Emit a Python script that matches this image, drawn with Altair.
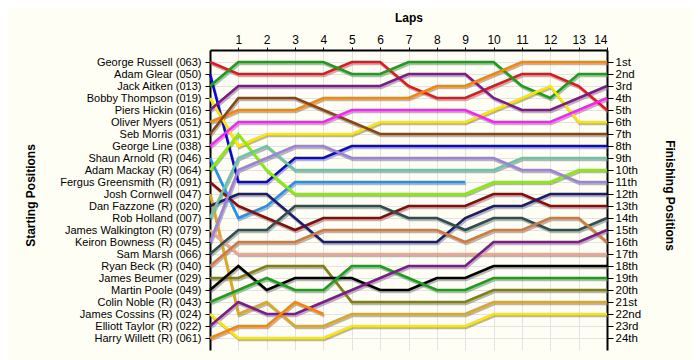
import altair as alt
import pandas as pd

laps = list(range(0, 15))
lap_labels = list(range(1, 15))

drivers = [
    "George Russell (063)", "Adam Glear (050)", "Jack Aitken (013)", "Bobby Thompson (019)",
    "Piers Hickin (016)", "Oliver Myers (051)", "Seb Morris (031)", "George Line (038)",
    "Shaun Arnold (R) (046)", "Adam Mackay (R) (064)", "Fergus Greensmith (R) (091)",
    "Josh Cornwell (047)", "Dan Fazzone (R) (020)", "Rob Holland (007)",
    "James Walkington (R) (079)", "Keiron Bowness (R) (045)", "Sam Marsh (066)",
    "Ryan Beck (R) (040)", "James Beumer (029)", "Martin Poole (049)", "Colin Noble (R) (043)",
    "James Cossins (R) (024)", "Elliott Taylor (R) (022)", "Harry Willett (R) (061)",
]

colors = [
    "#E3171C", "#0A0ACC", "#18A018", "#FFE500", "#7E1A8C", "#FF8200", "#8B4513", "#FF1EFF",
    "#2290F0", "#84F000", "#8B0A0A", "#DDA820", "#1C1C6E", "#6CC4A8", "#F4A48C", "#9C82DC",
    "#2F4F4F", "#D27A3C", "#808012", "#000000", "#18A018", "#FFE500", "#7E1A8C", "#FF8200",
]

# position of each driver at the end of each lap (lap 0 = grid)
lap_positions = [
    [1, 2, 2, 2, 2, 1, 1, 3, 4, 4, 3, 2, 2, 3, 5],
    [2, 11, 11, 9, 9, 8, 8, 8, 8, 8, 8, 8, 8, 8, 8],
    [3, 1, 1, 1, 1, 2, 2, 1, 1, 1, 1, 3, 4, 2, 2],
    [4, 8, 7, 7, 7, 7, 6, 6, 6, 6, 5, 4, 3, 6, 6],
    [5, 3, 3, 3, 3, 3, 3, 2, 2, 2, 4, 5, 5, 4, 3],
    [6, 5, 5, 5, 4, 4, 4, 4, 3, 3, 2, 1, 1, 1, 1],
    [7, 4, 4, 4, 5, 6, 7, 7, 7, 7, 7, 7, 7, 7, 7],
    [8, 6, 6, 6, 6, 5, 5, 5, 5, 5, 6, 6, 6, 5, 4],
    [9, 14, 13, 11, 11, 11, 11, 11, 11, 11],
    [10, 7, 10, 12, 12, 12, 12, 12, 12, 12, 11, 11, 11, 10, 10],
    [11, 13, 14, 15, 14, 14, 14, 13, 13, 13, 12, 12, 13, 13, 13],
    [12, 22, 21, 23, 23, 22, 22, 22, 22, 22, 21, 21, 21, 21, 21],
    [13, 12, 12, 14, 16, 16, 16, 16, 16, 14, 13, 13, 12, 12, 12],
    [14, 9, 8, 10, 10, 10, 10, 10, 10, 10, 10, 9, 9, 9, 9],
    [15, 17, 17, 17, 17, 17, 17, 17, 17, 17, 17, 17, 17, 17, 17],
    [16, 10, 9, 8, 8, 9, 9, 9, 9, 9, 9, 10, 10, 11, 11],
    [17, 15, 15, 13, 13, 13, 13, 14, 14, 15, 14, 14, 15, 15, 14],
    [18, 16, 16, 16, 15, 15, 15, 15, 15, 16, 15, 15, 14, 14, 16],
    [19, 19, 18, 18, 18, 21, 21, 21, 21, 21, 20, 20, 20, 20, 20],
    [20, 18, 20, 19, 19, 19, 20, 20, 19, 19, 18, 18, 18, 18, 18],
    [21, 20, 19, 20, 20, 18, 18, 19, 20, 20, 19, 19, 19, 19, 19],
    [22, 24, 24, 24, 24, 23, 23, 23, 23, 23, 22, 22, 22, 22, 22],
    [23, 21, 22, 22, 21, 20, 19, 18, 18, 18, 16, 16, 16, 16, 15],
    [24, 23, 23, 21, 22],
]

finish_labels = [
    "1st", "2nd", "3rd", "4th", "5th", "6th", "7th", "8th", "9th", "10th", "11th", "12th",
    "13th", "14th", "15th", "16th", "17th", "18th", "19th", "20th", "21st", "22nd", "23rd", "24th",
]

rows = []
for i, (name, plist) in enumerate(zip(drivers, lap_positions)):
    for lap, p in zip(laps, plist):
        rows.append({"driver": name, "idx": i, "lap": lap, "pos": p})
df = pd.DataFrame(rows)

FONT = "Liberation Sans"
pos_values = list(range(1, 25))
left_expr = "[''," + ",".join("'" + d + "'" for d in drivers) + "][datum.value]"
right_expr = "[''," + ",".join("'" + s + "'" for s in finish_labels) + "][datum.value]"

yscale = alt.Scale(domain=[0, 25], reverse=True, nice=False, zero=False)
xscale = alt.Scale(domain=[0, 14], nice=False, zero=False)

xaxis = alt.Axis(
    orient="top", values=lap_labels, title="Laps", titleFont=FONT, titleFontSize=12,
    titleFontWeight="bold", titleColor="black", titlePadding=9,
    labelFont=FONT, labelFontSize=12, labelColor="black", labelPadding=1,
    domainColor="black", domainWidth=2, tickColor="black", tickSize=3,
    grid=True, gridColor="#E3E3E3", gridWidth=1,
)
x_enc = alt.X("lap:Q", scale=xscale, axis=xaxis)

base = alt.Chart(df)

shadow = base.mark_line(color="#7a7a7a", strokeWidth=2.6, opacity=0.55, xOffset=1, yOffset=2).encode(
    x=x_enc,
    y=alt.Y("pos:Q", scale=yscale, axis=None),
    detail="driver:N",
    order="lap:Q",
)

lines = base.mark_line(strokeWidth=2.6).encode(
    x=x_enc,
    y=alt.Y("pos:Q", scale=yscale, axis=alt.Axis(
        orient="left", values=pos_values, labelExpr=left_expr, title="Starting Positions",
        titleFont=FONT, titleFontSize=12, titleFontWeight="bold", titleColor="black",
        titleAngle=270, titleX=-180, titleY=145, titleAlign="center", titleBaseline="middle",
        labelFont=FONT, labelFontSize=11, labelColor="black", labelPadding=4,
        domainColor="black", domainWidth=2, tickColor="black", tickSize=5,
        grid=True, gridColor="#E3E3E3", gridWidth=1, labelOverlap=False,
    )),
    color=alt.Color("driver:N", scale=alt.Scale(domain=drivers, range=colors), legend=None),
    detail="driver:N",
    order="lap:Q",
)

right = base.mark_line(strokeOpacity=0).encode(
    x=x_enc,
    y=alt.Y("pos:Q", scale=yscale, axis=alt.Axis(
        orient="right", values=pos_values, labelExpr=right_expr, title="Finishing Positions",
        titleFont=FONT, titleFontSize=12, titleFontWeight="bold", titleColor="black",
        titleAngle=90, titleX=62, titleY=145, titleAlign="center", titleBaseline="middle",
        labelFont=FONT, labelFontSize=11.5, labelColor="black", labelPadding=2,
        domainColor="black", domainWidth=2, tickColor="black", tickSize=6,
        grid=False, labelOverlap=False,
    )),
    detail="driver:N",
)

chart = alt.layer(shadow, lines, right).resolve_scale(y="independent").properties(
    width=397,
    height=300,
    padding={"left": 202, "top": 42, "right": 85, "bottom": 10},
    autosize=alt.AutoSizeParams(type="none"),
    background="#FFFEF5",
).configure_view(stroke="transparent")

chart.save("out.html", embed_options={"renderer": "svg", "actions": False})
